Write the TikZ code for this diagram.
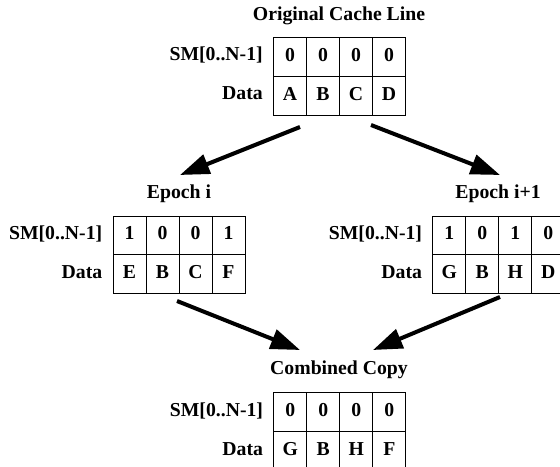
\documentclass[tikz,border=0pt]{standalone}
\usepackage{fontspec}
\setmainfont{Liberation Serif}
\usetikzlibrary{arrows.meta,calc}

\newcommand\cachegrid[5]{%
  \foreach \v [count=\i] in {#4} {\node[cell] (#1-s\i) at ({#2+(\i-1)*33},#3) {\v};}
  \foreach \v [count=\i] in {#5} {\node[cell] (#1-d\i) at ({#2+(\i-1)*33},{#3+38.8}) {\v};}
  \node[rowlabel] (#1-sl) at ({#2-10},{#3+19.4}) {SM[0..N-1]};
  \node[rowlabel] (#1-dl) at ({#2-10},{#3+58.2}) {Data};
}

\begin{document}
\begin{tikzpicture}[x=0.75pt,y=-0.75pt,
  every node/.style={font=\fontsize{14.8}{17}\selectfont\bfseries},
  cell/.style={draw=black, line width=0.75pt, minimum width=24.75pt, minimum height=29.1pt,
    inner sep=0pt, anchor=north west, text height=0.68em, text depth=0pt},
  rowlabel/.style={anchor=east, inner sep=0pt, text height=0.68em, text depth=0pt},
  title/.style={anchor=base, inner sep=0pt},
  bigarrow/.style={line width=3pt, -{Triangle[length=22pt,width=15pt]}}]
\useasboundingbox (0,0) rectangle (560,467);
\clip (0,0) rectangle (560,467);

\node[title] (t-orig) at (339,21) {Original Cache Line};
\node[title] (t-epa) at (179,198) {Epoch i};
\node[title] (t-epb) at (498,198) {Epoch i+1};
\node[title] (t-comb) at (339,374) {Combined Copy};

\cachegrid{orig}{273}{37}{0,0,0,0}{A,B,C,D}
\cachegrid{epa}{112.5}{215.5}{1,0,0,1}{E,B,C,F}
\cachegrid{epb}{432.3}{215.5}{1,0,1,0}{G,B,H,D}
\cachegrid{comb}{273.3}{392.3}{0,0,0,0}{G,B,H,F}

\coordinate (a1s) at (300,127);
\coordinate (a1e) at (180,175);
\coordinate (a2s) at (371,125);
\coordinate (a2e) at (500,175);
\coordinate (a3s) at (177,301);
\coordinate (a3e) at (300,350);
\coordinate (a4s) at (500,297);
\coordinate (a4e) at (373,350);

\draw[bigarrow] (a1s) -- (a1e);
\draw[bigarrow] (a2s) -- (a2e);
\draw[bigarrow] (a3s) -- (a3e);
\draw[bigarrow] (a4s) -- (a4e);
\end{tikzpicture}
\end{document}
